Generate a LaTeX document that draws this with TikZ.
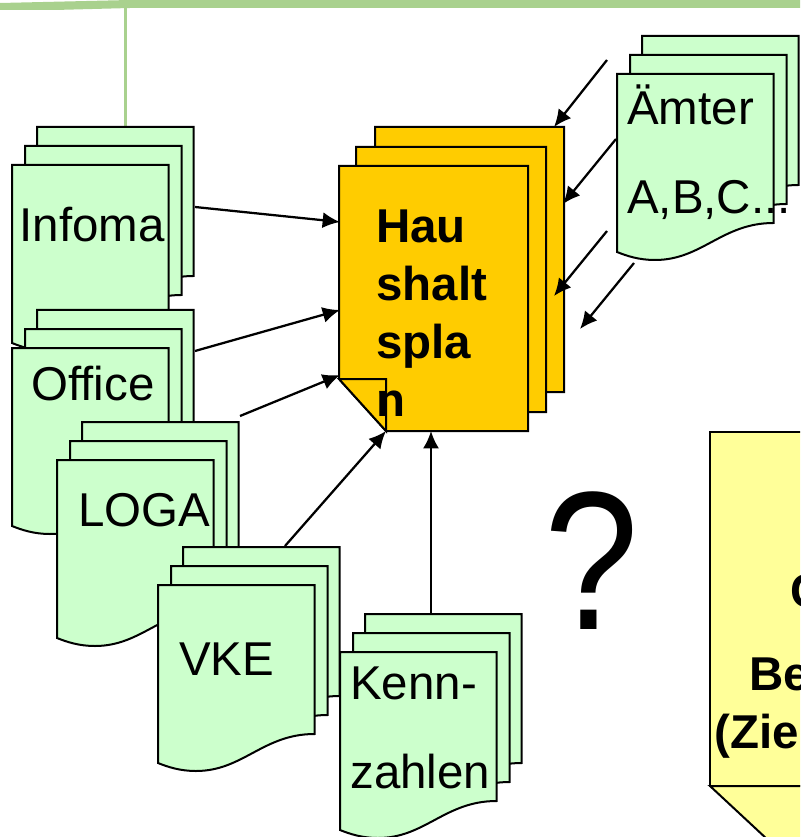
\documentclass[tikz,border=0pt]{standalone}
\usepackage{fontspec}
\setmainfont{Liberation Sans}
\usepackage{xcolor}
\usepackage{tikz}
\usetikzlibrary{arrows.meta}
\definecolor{sheetgreen}{HTML}{CCFFCC}
\definecolor{planorange}{HTML}{FFCC00}
\definecolor{noteyellow}{HTML}{FFFF99}
\definecolor{bargreen}{HTML}{A9D18E}
\tikzset{
  sheetline/.style={draw=black,line width=1.5pt,line join=miter},
  linkarrow/.style={line width=1.7pt,-{Latex[length=13pt,width=12pt]}},
  doclabel/.style={anchor=north west,inner sep=0.75pt,align=left,font=\fontsize{35.6}{66.5}\selectfont},
  boldlabel/.style={anchor=north west,inner sep=0.75pt,align=left,font=\fontsize{35.6}{43.5}\selectfont\bfseries},
}
\newcommand{\docsheet}[2]{%
  \draw[sheetline,fill=sheetgreen,shift={(#1,#2)}] (0,0) -- (156.5,0) -- (156.5,149)
    .. controls (105,149) and (85,186) .. (38,186) .. controls (22,186) and (10,182) .. (0,178) -- cycle;}
\newcommand{\docstack}[2]{%
  \begin{scope}[shift={(#1,#2)}]
    \docsheet{25}{-38}
    \docsheet{13}{-19}
    \docsheet{0}{0}
  \end{scope}}
\begin{document}
\begin{tikzpicture}[x=0.75pt,y=0.75pt,yscale=-1,xscale=1]
\useasboundingbox (0,0) rectangle (800,837);
\clip (0,0) rectangle (800,837);

% Top bar and its stem
\fill[bargreen] (0,3) -- (130,0) -- (800,0) -- (800,8) -- (130,8) -- (55,10) -- (0,10) -- cycle;
\coordinate (barstem) at (125.5,8);
\coordinate (infomatop) at (125.5,127);
\draw[bargreen,line width=1.6pt] (barstem) -- (infomatop);

% Document stacks
\docstack{12}{165}
\docstack{12}{348}
\docstack{57}{460}
\docstack{158}{585}
\docstack{340}{652}
\docstack{617}{74}

% Budget plan
\draw[sheetline,fill=planorange] (375,127) -- (564,127) -- (564,392) -- (422,392) -- (375,340) -- cycle;
\draw[sheetline,fill=planorange] (356,147) -- (546,147) -- (546,412) -- (403,412) -- (356,360) -- cycle;
\draw[sheetline,fill=planorange] (339,166) -- (528,166) -- (528,431) -- (386,431) -- (339,379) -- cycle;
\draw[sheetline,fill=planorange] (339,379) -- (386,379) -- (386,431) -- cycle;

% Goals box
\draw[sheetline,fill=noteyellow] (710,432) -- (820,432) -- (820,786) -- (710,786) -- cycle;
\draw[sheetline,fill=noteyellow] (710,786) -- (768,840) -- (820,840) -- (820,786) -- cycle;

% Text Node
\draw (18.5,205.5) node [doclabel] (infoma) {Infoma};
% Text Node
\draw (30,365) node [doclabel] (office) {Office};
% Text Node
\draw (77,492) node [doclabel] (loga) {LOGA};
% Text Node
\draw (178,642) node [doclabel] (vke) {VKE};
% Text Node
\draw (349,666) node [doclabel] (kenn) {Kenn-\\zahlen};
% Text Node
\draw (626,84) node [doclabel] (aemter) {Ämter\\A,B,C...};
% Text Node
\draw (375,209) node [boldlabel] (plan) {Hau\\shalt\\spla\\n};
% Text Node
\draw (543,490) node [anchor=north west,inner sep=0.75pt,font=\fontsize{148}{148}\selectfont] (query) {\scalebox{0.86}[1]{?}};
% Text Node
\draw (789,573) node [boldlabel] (goalc) {C};
% Text Node
\draw (748,657) node [boldlabel] (goalb) {Be};
% Text Node
\draw (713,713) node [boldlabel] (goalz) {(Zie};

% Arrow ends
\coordinate (infomaout) at (195,207);
\coordinate (infomain) at (340,222);
\coordinate (officeout) at (195,351);
\coordinate (officein) at (340,310);
\coordinate (logaout) at (240,416);
\coordinate (logain) at (340,375);
\coordinate (vkeout) at (285,546);
\coordinate (vkein) at (386,431);
\coordinate (kennout) at (431,614);
\coordinate (kennin) at (431,431);
\coordinate (aemterouta) at (607,60);
\coordinate (aemterina) at (554,127);
\coordinate (aemteroutb) at (616,139);
\coordinate (aemterinb) at (563,204);
\coordinate (aemteroutc) at (607,231);
\coordinate (aemterinc) at (554,296);
\coordinate (aemteroutd) at (634,263);
\coordinate (aemterind) at (580,329);

\draw[linkarrow] (infomaout) -- (infomain);
\draw[linkarrow] (officeout) -- (officein);
\draw[linkarrow] (logaout) -- (logain);
\draw[linkarrow] (vkeout) -- (vkein);
\draw[linkarrow] (kennout) -- (kennin);
\draw[linkarrow] (aemterouta) -- (aemterina);
\draw[linkarrow] (aemteroutb) -- (aemterinb);
\draw[linkarrow] (aemteroutc) -- (aemterinc);
\draw[linkarrow] (aemteroutd) -- (aemterind);

\end{tikzpicture}
\end{document}
